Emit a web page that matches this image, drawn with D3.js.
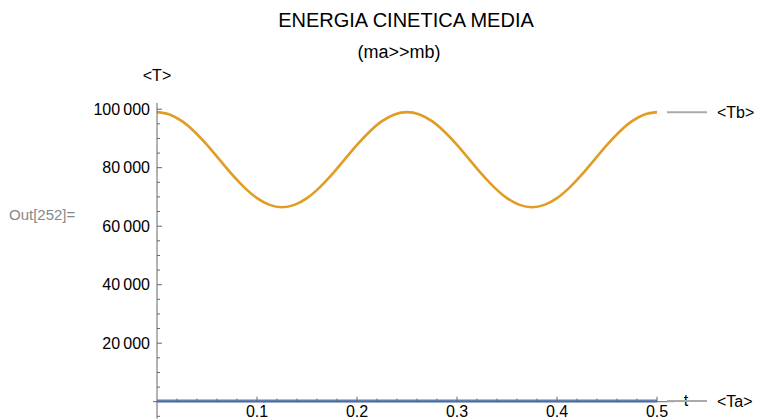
<!DOCTYPE html>
<html>
<head>
<meta charset="utf-8">
<script src="https://cdn.jsdelivr.net/npm/d3@7"></script>
<style>
  body { margin: 0; background: #fff; }
  text { font-family: "Liberation Sans", Arial, sans-serif; }
</style>
</head>
<body>
<svg id="chart"></svg>
<script>
// values
const times = [0, 0.0125, 0.025, 0.0375, 0.05, 0.0625, 0.075, 0.0875, 0.1, 0.1125,
               0.125, 0.1375, 0.15, 0.1625, 0.175, 0.1875, 0.2, 0.2125, 0.225, 0.2375,
               0.25, 0.2625, 0.275, 0.2875, 0.3, 0.3125, 0.325, 0.3375, 0.35, 0.3625,
               0.375, 0.3875, 0.4, 0.4125, 0.425, 0.4375, 0.45, 0.4625, 0.475, 0.4875, 0.5];
const tbValues = [99000, 98200, 95900, 92300, 87800, 82750, 77700, 73200, 69600, 67300,
                  66500, 67300, 69600, 73200, 77700, 82750, 87800, 92300, 95900, 98200,
                  99000, 98200, 95900, 92300, 87800, 82750, 77700, 73200, 69600, 67300,
                  66500, 67300, 69600, 73200, 77700, 82750, 87800, 92300, 95900, 98200, 99000];
const taValues = times.map(() => 200); // flat, sits on the axis
const xTicks = [0.1, 0.2, 0.3, 0.4, 0.5];
const yTicks = [20000, 40000, 60000, 80000, 100000];

const width = 760,
      height = 420;

const svg = d3.select("#chart")
  .attr("width", width)
  .attr("height", height);

const x = d3.scaleLinear().domain([0, 0.5]).range([157, 657]);
const y = d3.scaleLinear().domain([0, 100000]).range([401.7, 109.2]);

const axisColor = "#666";

//Series
const line = d3.line()
  .x((d, i) => x(times[i]))
  .y(d => y(d))
  .curve(d3.curveMonotoneX);

svg.append("path")
  .datum(taValues)
  .attr("fill", "none")
  .attr("stroke", "#5E81B5")
  .attr("stroke-width", 3)
  .attr("d", line);

svg.append("path")
  .datum(tbValues)
  .attr("fill", "none")
  .attr("stroke", "#E19C24")
  .attr("stroke-width", 2.6)
  .attr("d", line);

//Axes lines
svg.append("line")
  .attr("x1", x(0) - 4).attr("x2", 674)
  .attr("y1", y(0)).attr("y2", y(0))
  .attr("stroke", axisColor).attr("stroke-width", 1);

svg.append("line")
  .attr("x1", x(0)).attr("x2", x(0))
  .attr("y1", 103).attr("y2", y(-5800))
  .attr("stroke", axisColor).attr("stroke-width", 1);

// x ticks
const xMinor = d3.range(0.02, 0.501, 0.02);
svg.append("g")
  .selectAll("line")
  .data(xMinor)
  .enter().append("line")
    .attr("x1", d => x(d)).attr("x2", d => x(d))
    .attr("y1", y(0))
    .attr("y2", d => xTicks.some(t => Math.abs(t - d) < 1e-6) ? y(0) - 5 : y(0) - 3)
    .attr("stroke", axisColor);

svg.append("g")
  .selectAll("text")
  .data(xTicks)
  .enter().append("text")
    .attr("x", d => x(d))
    .attr("y", 417)
    .attr("text-anchor", "middle")
    .style("font-size", "16px")
    .text(d => d3.format(".1f")(d));

// y ticks
const yMinor = d3.range(-5000, 100001, 5000).filter(d => d !== 0);
svg.append("g")
  .selectAll("line")
  .data(yMinor)
  .enter().append("line")
    .attr("y1", d => y(d)).attr("y2", d => y(d))
    .attr("x1", x(0))
    .attr("x2", d => yTicks.includes(d) ? x(0) + 5 : x(0) + 3)
    .attr("stroke", axisColor);

svg.append("g")
  .selectAll("text")
  .data(yTicks)
  .enter().append("text")
    .attr("x", 150)
    .attr("y", d => y(d))
    .attr("dy", "0.36em")
    .attr("text-anchor", "end")
    .style("font-size", "16px")
    .text(d => d3.format(",")(d).replace(",", "\u2009"));

//Axis labels
svg.append("text")
  .attr("x", x(0)).attr("y", 81)
  .attr("text-anchor", "middle")
  .style("font-size", "16px")
  .text("<T>");

svg.append("text")
  .attr("x", 686).attr("y", 406)
  .attr("text-anchor", "middle")
  .style("font-size", "16px")
  .text("t");

//Titles
svg.append("text")
  .attr("x", 406).attr("y", 27)
  .attr("text-anchor", "middle")
  .style("font-size", "20px")
  .text("ENERGIA CINETICA MEDIA");

svg.append("text")
  .attr("x", 399).attr("y", 58)
  .attr("text-anchor", "middle")
  .style("font-size", "18px")
  .text("(ma>>mb)");

svg.append("text")
  .attr("x", 9).attr("y", 220)
  .style("font-size", "15px")
  .attr("fill", "#888")
  .text("Out[252]=");

//Legend
const legend = [
  {label: "<Tb>", value: tbValues[tbValues.length - 1]},
  {label: "<Ta>", value: taValues[taValues.length - 1]}
];

const lg = svg.append("g")
  .selectAll("g")
  .data(legend)
  .enter().append("g")
    .attr("transform", d => `translate(0, ${y(d.value)})`);

lg.append("line")
  .attr("x1", 667).attr("x2", 707)
  .attr("stroke", "#aaa")
  .attr("stroke-width", 2);

lg.append("text")
  .attr("x", 717)
  .attr("dy", "0.36em")
  .style("font-size", "16px")
  .text(d => d.label);
</script>
</body>
</html>
